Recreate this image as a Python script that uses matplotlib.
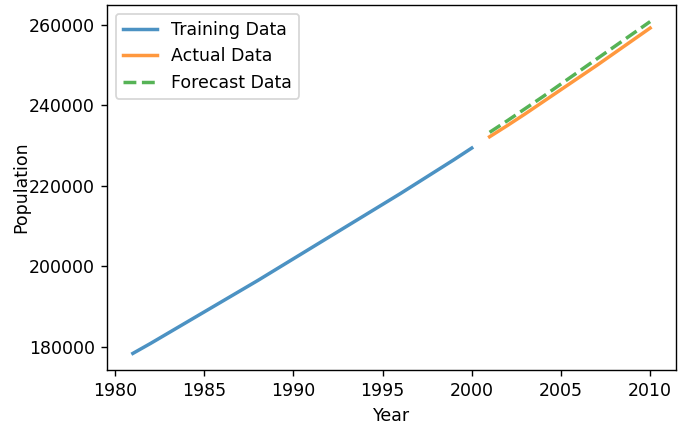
import matplotlib
matplotlib.use("Agg")
import matplotlib.pyplot as plt

train_years = list(range(1981, 2001))
train_pop = [178400, 180900, 183500, 186100, 188700, 191300, 193900, 196500, 199200, 201900,
             204600, 207300, 210000, 212700, 215400, 218100, 220900, 223700, 226500, 229400]
test_years = list(range(2001, 2011))
actual_pop = [232200, 235000, 237900, 240900, 243900, 246900, 249900, 253000, 256100, 259200]
forecast_pop = [233300, 236200, 239200, 242200, 245300, 248400, 251500, 254600, 257700, 260800]

DPI = 125
fig = plt.figure(figsize=(683/DPI, 424/DPI), dpi=DPI)
ax = fig.add_axes([107/683, 1 - 370/424, (676-107)/683, (370-5)/424])
ax.plot(train_years, train_pop, label="Training Data", lw=2, alpha=0.8, color="#1f77b4")
ax.plot(test_years, actual_pop, label="Actual Data", lw=2, alpha=0.8, color="#ff7f0e")
ax.plot(test_years, forecast_pop, "--", label="Forecast Data", lw=2, alpha=0.8, color="#2ca02c")
ax.set_xlabel("Year")
ax.set_ylabel("Population", labelpad=-1)
ax.legend(loc="upper left")
fig.savefig("out.png", dpi=DPI)
